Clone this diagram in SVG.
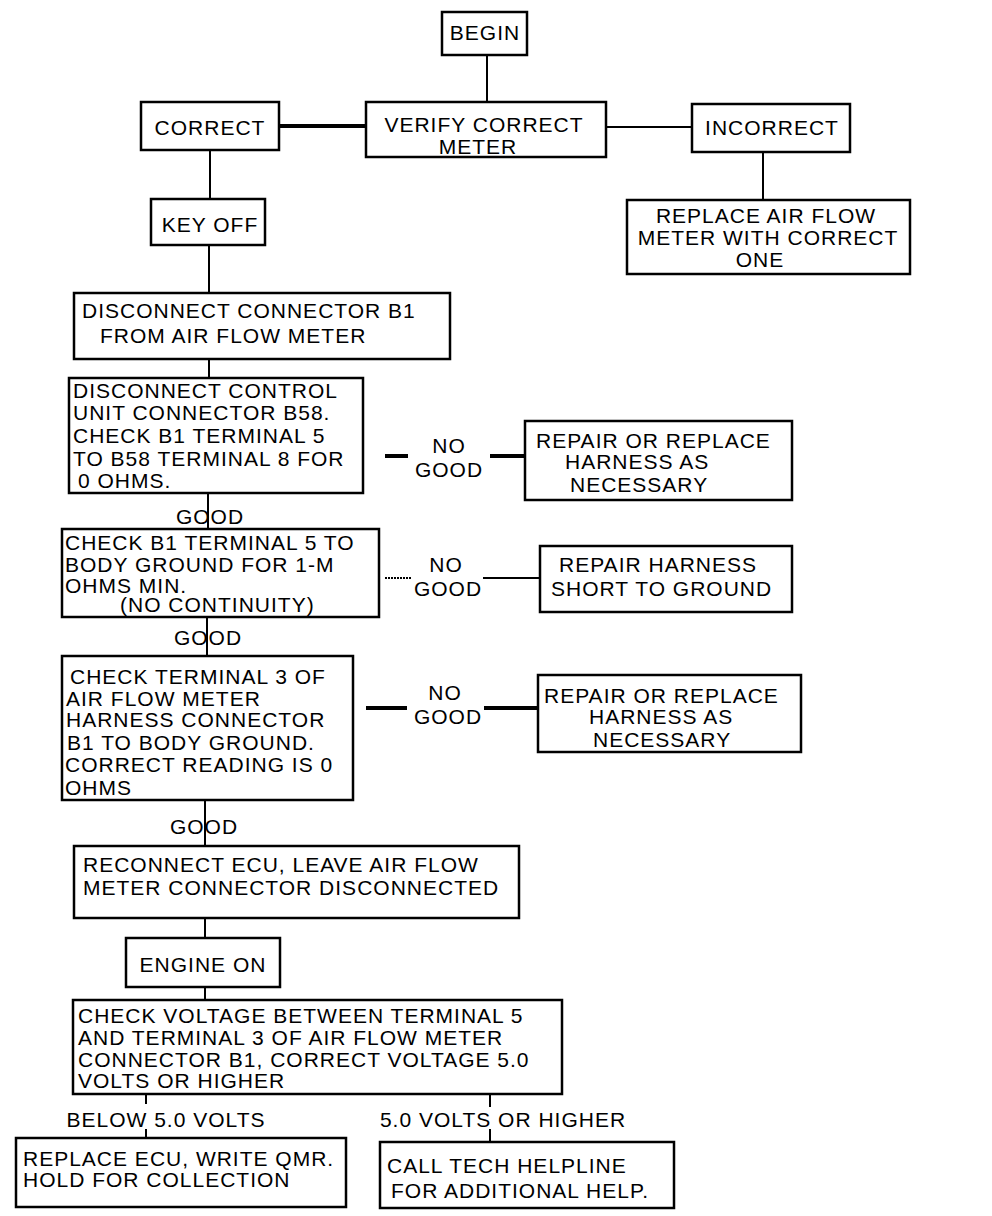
<svg xmlns="http://www.w3.org/2000/svg" width="992" height="1216" viewBox="0 0 992 1216">
<style>
  .box { fill: #fff; stroke: #000; stroke-width: 2.5; }
  text { font-family: "Liberation Sans", Arial, sans-serif; font-size: 21px; letter-spacing: 1px; fill: #000; }
  .c { text-anchor: middle; }
  .ln { stroke: #000; stroke-width: 2; fill: none; }
  .thk { stroke: #000; stroke-width: 4; fill: none; }
</style>
<rect width="992" height="1216" fill="#fff"/>
<g id="connectors">
  <line class="ln" x1="487" y1="55" x2="487" y2="102"/>
  <line class="thk" x1="279" y1="126" x2="366" y2="126"/>
  <line class="ln" x1="606" y1="127" x2="692" y2="127"/>
  <line class="ln" x1="210" y1="150" x2="210" y2="199"/>
  <line class="ln" x1="763" y1="152" x2="763" y2="200"/>
  <line class="ln" x1="209" y1="245" x2="209" y2="293"/>
  <line class="ln" x1="209" y1="359" x2="209" y2="378"/>
  <line class="thk" x1="385" y1="456" x2="408" y2="456"/>
  <line class="thk" x1="490" y1="456" x2="525" y2="456"/>
  <line class="ln" x1="208" y1="493" x2="208" y2="529"/>
  <line class="ln" x1="385" y1="578" x2="412" y2="578" stroke-dasharray="2 1"/>
  <line class="ln" x1="483" y1="578" x2="540" y2="578"/>
  <line class="ln" x1="207" y1="617" x2="207" y2="656"/>
  <line class="thk" x1="366" y1="708" x2="407" y2="708"/>
  <line class="thk" x1="484" y1="708" x2="538" y2="708"/>
  <line class="ln" x1="205" y1="801" x2="205" y2="846"/>
  <line class="ln" x1="205" y1="918" x2="205" y2="938"/>
  <line class="ln" x1="205" y1="987" x2="205" y2="1000"/>
  <line class="ln" x1="146" y1="1095" x2="146" y2="1104"/>
  <line class="ln" x1="146" y1="1129" x2="146" y2="1138"/>
  <line class="ln" x1="490" y1="1095" x2="490" y2="1107"/>
  <line class="ln" x1="490" y1="1129" x2="490" y2="1142"/>
  <text x="449" y="453" class="c">NO</text>
  <text x="449" y="477" class="c">GOOD</text>
  <text x="210" y="524" class="c">GOOD</text>
  <text x="446" y="572" class="c">NO</text>
  <text x="448" y="596" class="c">GOOD</text>
  <text x="208" y="645" class="c">GOOD</text>
  <text x="445" y="700" class="c">NO</text>
  <text x="448" y="724" class="c">GOOD</text>
  <text x="204" y="834" class="c">GOOD</text>
  <text x="166" y="1127" class="c">BELOW 5.0 VOLTS</text>
  <text x="503" y="1127" class="c">5.0 VOLTS OR HIGHER</text>
</g>
<g id="begin">
  <rect class="box" x="442" y="12" width="85" height="43"/>
  <text x="485" y="40" class="c">BEGIN</text>
</g>
<g id="verify">
  <rect class="box" x="366" y="102" width="240" height="55"/>
  <text x="484" y="132" class="c">VERIFY CORRECT</text>
  <text x="478" y="154" class="c">METER</text>
</g>
<g id="correct">
  <rect class="box" x="141" y="102" width="138" height="48"/>
  <text x="210" y="135" class="c">CORRECT</text>
</g>
<g id="incorrect">
  <rect class="box" x="692" y="104" width="158" height="48"/>
  <text x="772" y="135" class="c">INCORRECT</text>
</g>
<g id="keyoff">
  <rect class="box" x="151" y="199" width="114" height="46"/>
  <text x="210" y="232" class="c">KEY OFF</text>
</g>
<g id="replace-meter">
  <rect class="box" x="627" y="200" width="283" height="74"/>
  <text x="766" y="223" class="c">REPLACE AIR FLOW</text>
  <text x="768" y="245" class="c">METER WITH CORRECT</text>
  <text x="760" y="267" class="c">ONE</text>
</g>
<g id="disconnect-b1">
  <rect class="box" x="74" y="293" width="376" height="66"/>
  <text x="82" y="318">DISCONNECT CONNECTOR B1</text>
  <text x="100" y="343">FROM AIR FLOW METER</text>
</g>
<g id="disconnect-b58">
  <rect class="box" x="69" y="378" width="294" height="115"/>
  <text x="73" y="398">DISCONNECT CONTROL</text>
  <text x="73" y="420">UNIT CONNECTOR B58.</text>
  <text x="73" y="443">CHECK B1 TERMINAL 5</text>
  <text x="73" y="466">TO B58 TERMINAL 8 FOR</text>
  <text x="78" y="488">0 OHMS.</text>
</g>
<g id="repair1">
  <rect class="box" x="525" y="421" width="267" height="79"/>
  <text x="536" y="448">REPAIR OR REPLACE</text>
  <text x="565" y="469">HARNESS AS</text>
  <text x="570" y="492">NECESSARY</text>
</g>
<g id="check-ground">
  <rect class="box" x="62" y="529" width="317" height="88"/>
  <text x="65" y="550">CHECK B1 TERMINAL 5 TO</text>
  <text x="65" y="572">BODY GROUND FOR 1-M</text>
  <text x="65" y="593">OHMS MIN.</text>
  <text x="120" y="612">(NO CONTINUITY)</text>
</g>
<g id="repair-short">
  <rect class="box" x="540" y="546" width="252" height="66"/>
  <text x="559" y="572">REPAIR HARNESS</text>
  <text x="551" y="596">SHORT TO GROUND</text>
</g>
<g id="check-term3">
  <rect class="box" x="62" y="656" width="291" height="144"/>
  <text x="70" y="684">CHECK TERMINAL 3 OF</text>
  <text x="66" y="706">AIR FLOW METER</text>
  <text x="66" y="727">HARNESS CONNECTOR</text>
  <text x="67" y="750">B1 TO BODY GROUND.</text>
  <text x="65" y="772">CORRECT READING IS 0</text>
  <text x="65" y="795">OHMS</text>
</g>
<g id="repair3">
  <rect class="box" x="538" y="675" width="263" height="77"/>
  <text x="544" y="703">REPAIR OR REPLACE</text>
  <text x="589" y="724">HARNESS AS</text>
  <text x="593" y="747">NECESSARY</text>
</g>
<g id="reconnect">
  <rect class="box" x="74" y="846" width="445" height="72"/>
  <text x="83" y="872">RECONNECT ECU, LEAVE AIR FLOW</text>
  <text x="83" y="895">METER CONNECTOR DISCONNECTED</text>
</g>
<g id="engine-on">
  <rect class="box" x="126" y="938" width="154" height="49"/>
  <text x="203" y="972" class="c">ENGINE ON</text>
</g>
<g id="check-voltage">
  <rect class="box" x="73" y="1000" width="489" height="94"/>
  <text x="78" y="1023">CHECK VOLTAGE BETWEEN TERMINAL 5</text>
  <text x="78" y="1045">AND TERMINAL 3 OF AIR FLOW METER</text>
  <text x="78" y="1067">CONNECTOR B1, CORRECT VOLTAGE 5.0</text>
  <text x="78" y="1088">VOLTS OR HIGHER</text>
</g>
<g id="replace-ecu">
  <rect class="box" x="16" y="1138" width="330" height="69"/>
  <text x="23" y="1166">REPLACE ECU, WRITE QMR.</text>
  <text x="23" y="1187">HOLD FOR COLLECTION</text>
</g>
<g id="call-tech">
  <rect class="box" x="380" y="1142" width="294" height="66"/>
  <text x="387" y="1173">CALL TECH HELPLINE</text>
  <text x="391" y="1198">FOR ADDITIONAL HELP.</text>
</g>
</svg>
